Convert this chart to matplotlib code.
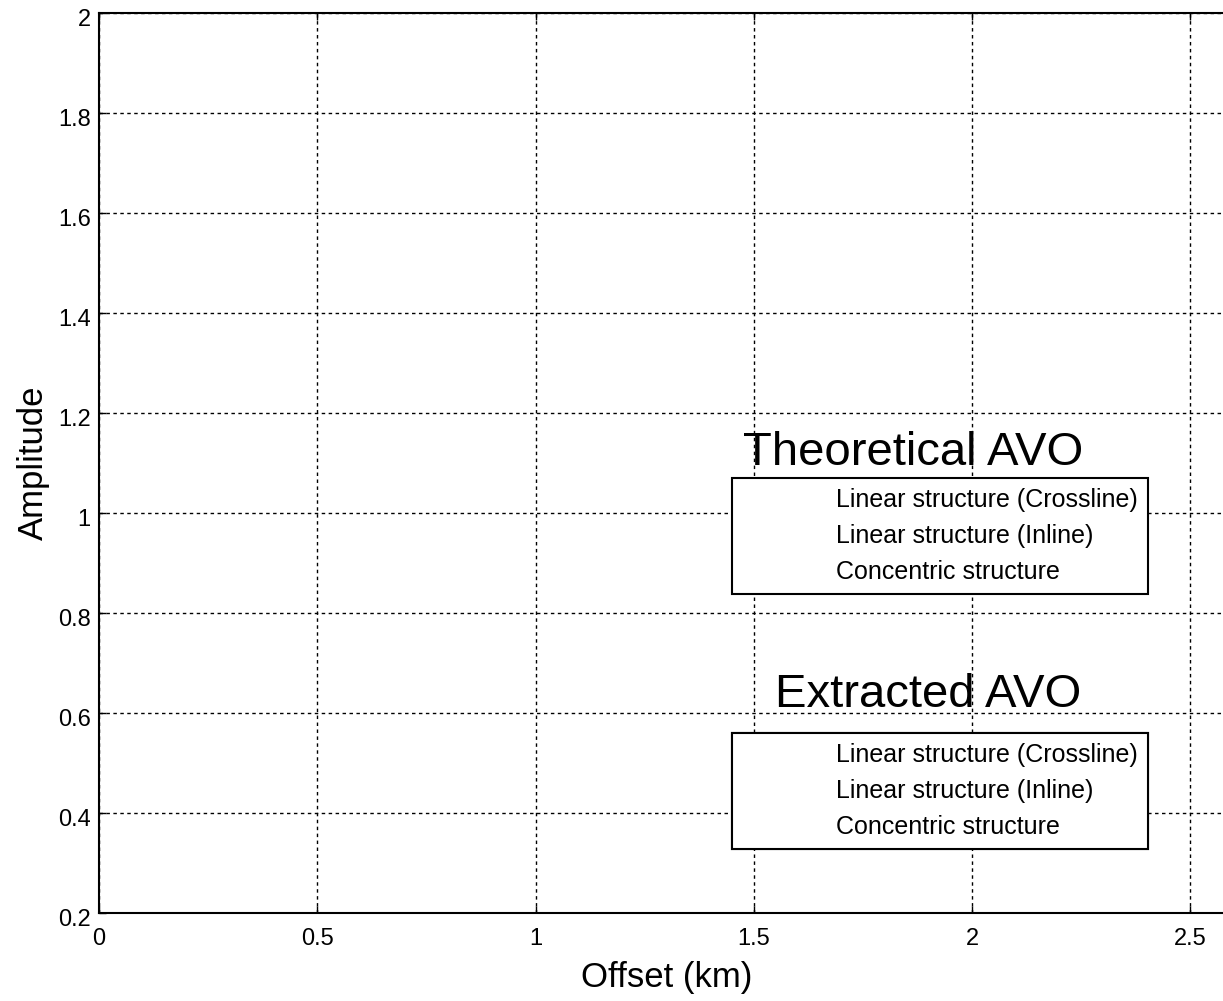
import matplotlib
matplotlib.use("Agg")
import matplotlib.pyplot as plt
from matplotlib.transforms import ScaledTranslation

# Datos del grafico (no hay curvas visibles, solo leyendas)
x_ticks = [0, 0.5, 1, 1.5, 2, 2.5]
x_tick_labels = ["0", "0.5", "1", "1.5", "2", "2.5"]
y_ticks = [0.2, 0.4, 0.6, 0.8, 1.0, 1.2, 1.4, 1.6, 1.8, 2.0]
y_tick_labels = ["0.2", "0.4", "0.6", "0.8", "1", "1.2", "1.4", "1.6", "1.8", "2"]
series_labels = ["Linear structure (Crossline)", "Linear structure (Inline)", "Concentric structure"]
legend_titles = ["Theoretical AVO", "Extracted AVO"]

plt.rcParams['font.family'] = ['Liberation Sans', 'DejaVu Sans']

W, H = 1223, 1001
fig = plt.figure(figsize=(W / 100, H / 100), dpi=100)
# eje ancho: el borde derecho queda fuera de la figura, como en el original
ax = fig.add_axes([99 / W, 88 / H, 1135 / W, 900 / H])
ax.set_xlim(0, 2.6)
ax.set_ylim(0.2, 2.0)

ax.set_xticks(x_ticks)
ax.set_xticklabels(x_tick_labels)
ax.set_yticks(y_ticks)
ax.set_yticklabels(y_tick_labels)
ax.tick_params(direction='in', length=5, width=1, top=True, right=True,
               labelsize=17, colors='black')
ax.tick_params(axis='x', pad=11)
ax.tick_params(axis='y', pad=6)
for lab in ax.get_yticklabels():
    lab.set_transform(lab.get_transform() + ScaledTranslation(0, -5 / 100, fig.dpi_scale_trans))

for s in ax.spines.values():
    s.set_linewidth(1.5)
    s.set_zorder(3)

ax.grid(True, color='black', linestyle=(0, (2.5, 2.5)), linewidth=1.0)
ax.set_axisbelow(True)

ax.set_xlabel("Offset (km)", fontsize=25, labelpad=8)
ax.set_ylabel("Amplitude", fontsize=25, labelpad=6)

# Curvas vacias: solo para las entradas de leyenda
lineas = []
for lab in series_labels:
    ln, = ax.plot([], [], color='none', label=lab)
    lineas.append(ln)

anclas = [(732 / W, 1 - 478 / H), (732 / W, 1 - 733 / H)]
for anc in anclas:
    leg = ax.legend(handles=lineas, labels=series_labels, loc='upper left',
                    bbox_to_anchor=anc, bbox_transform=fig.transFigure,
                    fontsize=18, frameon=True, fancybox=False, framealpha=1,
                    edgecolor='black', borderaxespad=0, borderpad=0.4,
                    handlelength=3.0, handletextpad=0.78, labelspacing=0.48)
    leg.get_frame().set_linewidth(1.5)
    ax.add_artist(leg)

ax.text(2.254, 1.096, legend_titles[0], fontsize=34, ha='right', va='baseline')
ax.text(2.249, 0.612, legend_titles[1], fontsize=34, ha='right', va='baseline')

plt.savefig("out.png", dpi=100)
plt.close()
